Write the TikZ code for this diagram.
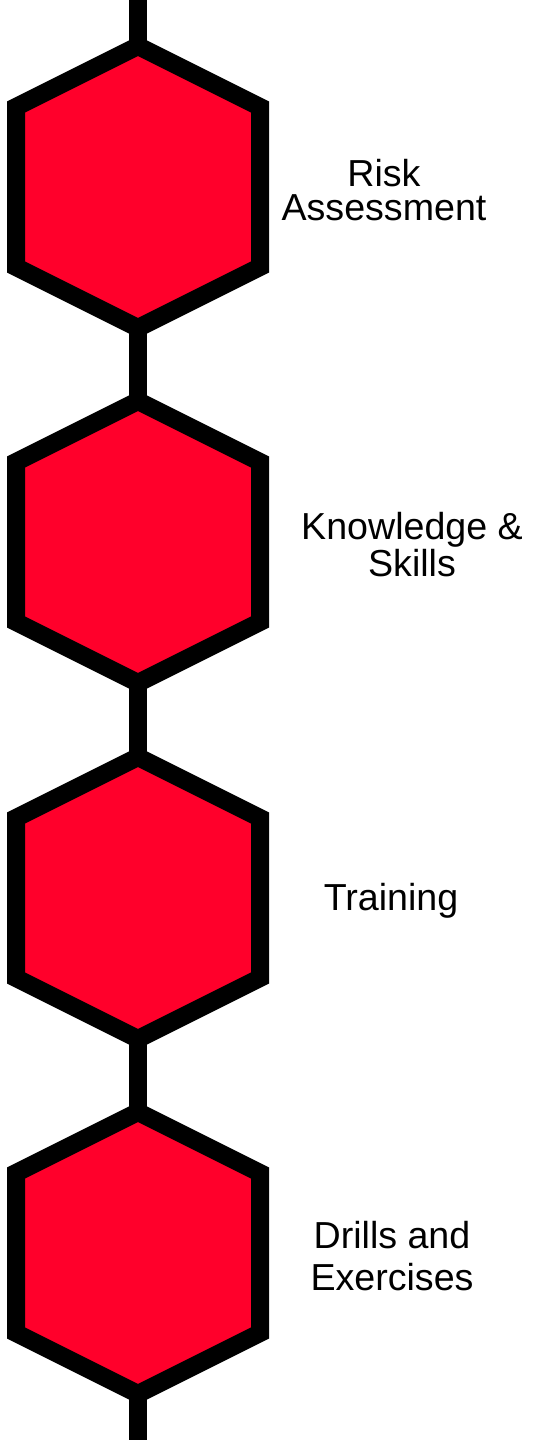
\documentclass[tikz,border=0pt]{standalone}
\usepackage{fontspec}
\setmainfont{Liberation Sans}
\usepackage{xcolor}
\definecolor{hexred}{RGB}{255,0,43}
\tikzset{link/.style={draw,line width=9pt,#1}}
\tikzset{link/.default={black}}
\tikzset{hexagon/.style={draw=black,fill=hexred,line width=9pt}}
\tikzset{font={\fontsize{18.8pt}{17pt}\selectfont}}

\begin{document}
\begin{tikzpicture}[x=0.5pt,y=-0.5pt]
    \useasboundingbox (0,0) rectangle (532,1440);
    \coordinate (start) at (138,0);
    \coordinate (end) at (138,1440);
    \foreach \i/\y in {1/187, 2/542, 3/898, 4/1253}{
        \coordinate (top\i) at (138,\y-141);
        \coordinate (bot\i) at (138,\y+141);
    }
    \path[link] (start) -- (top1);
    \foreach \i/\j in {1/2, 2/3, 3/4}{
        \path[link] (bot\i) -- (top\j);
    }
    \path[link] (bot4) -- (end);
    \foreach \i/\y/\tx/\ls/\txt in {1/187/384/17.4/{Risk\\Assessment}, 2/542/412/17.4/{Knowledge \&\\Skills}, 3/898/391/17/{Training}, 4/1253/392/20.8/{Drills and\\Exercises}}{
        \draw[hexagon] (top\i) -- (260,\y-80) -- (260,\y+80) -- (bot\i) -- (16,\y+80) -- (16,\y-80) -- cycle;
        \node[align=center,font={\fontsize{18.8pt}{\ls pt}\selectfont}] (label\i) at (\tx,\y+3) {\txt};
    }
\end{tikzpicture}
\end{document}
